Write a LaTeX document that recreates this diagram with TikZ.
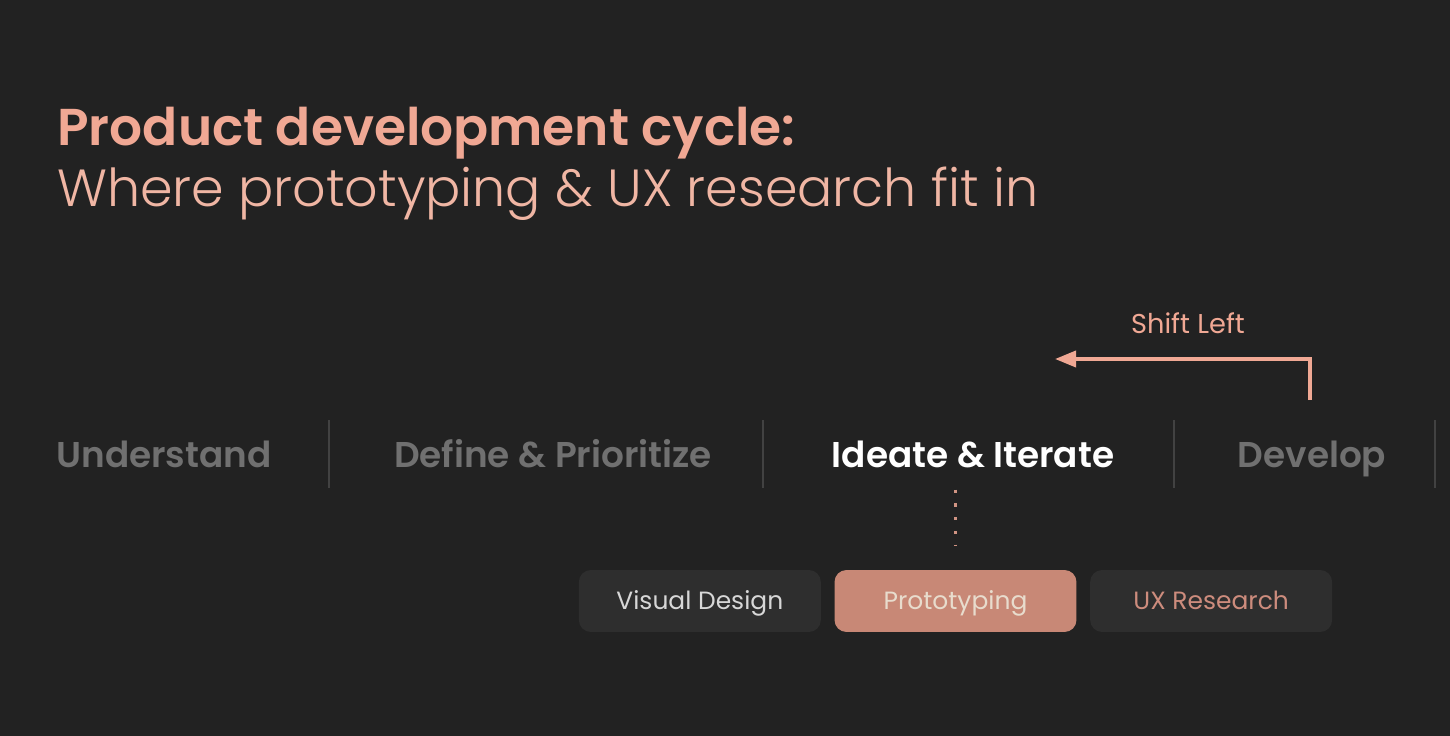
\documentclass[tikz,border=0pt]{standalone}
\usepackage{fontspec}
\setmainfont{Poppins}
\IfFontExistsTF{Poppins SemiBold}{\newfontfamily\semibold{Poppins SemiBold}}{\newcommand\semibold{\bfseries}}
\IfFontExistsTF{Poppins Light}{\newfontfamily\lightweight{Poppins Light}}{\newcommand\lightweight{}}
\usetikzlibrary{arrows.meta,positioning}
\definecolor{bgdark}{RGB}{34,34,34}
\definecolor{salmon}{RGB}{240,168,148}
\definecolor{salmonsub}{RGB}{240,182,164}
\definecolor{stagegrey}{RGB}{112,112,112}
\definecolor{sepgrey}{RGB}{66,66,66}
\definecolor{boxdark}{RGB}{46,46,46}
\definecolor{protofill}{RGB}{200,136,118}
\definecolor{prototext}{RGB}{232,220,205}
\definecolor{uxtext}{RGB}{205,140,125}
\definecolor{vdtext}{RGB}{215,215,215}
\tikzset{
  ttl/.style={anchor=base west, inner sep=0pt, font=\fontsize{29.5}{34}\selectfont},
  stage/.style={anchor=base, inner sep=0pt, font=\fontsize{20.4}{24}\selectfont\semibold, text=stagegrey},
  sep/.style={draw=sepgrey, line width=1pt},
  tool/.style={rectangle, rounded corners=0.24cm, fill=boxdark, minimum width=4.84cm, minimum height=1.24cm, inner sep=0pt,
    text height=0.94em, text depth=0pt, font=\fontsize{14.2}{17}\selectfont},
  shiftarrow/.style={draw=salmon, line width=2.1pt, -{Triangle[length=0.42cm, width=0.32cm]}},
}

\begin{document}
\begin{tikzpicture}[x=0.02cm, y=-0.02cm]
  % Background
  \fill[bgdark] (0,0) rectangle (1450,736);
  \useasboundingbox (0,0) rectangle (1450,736);

  % Title
  \node[ttl, text=salmon, font=\fontsize{29.5}{34}\selectfont\semibold] (title) at (57,146) {Product development cycle:};
  \node[ttl, text=salmonsub, font=\fontsize{29.75}{34}\selectfont\lightweight] (subtitle) at (57,207) {Where prototyping \& UX research fit in};

  % Stages
  \node[stage] (understand) at (164,467) {Understand};
  \node[stage] (define) at (553,467) {Define \& Prioritize};
  \node[stage, text=white] (ideate) at (973,467) {Ideate \& Iterate};
  \node[stage] (develop) at (1312,467) {Develop};

  % Separators
  \foreach \x in {329,763,1174,1435}
    \draw[sep] (\x,420) -- (\x,488);

  % Shift left
  \node[anchor=base, inner sep=0pt, text=salmon, font=\fontsize{15.5}{18}\selectfont] (shift) at (1188,334) {Shift Left};
  \coordinate (shiftstart) at (1310,400);
  \coordinate (shiftend) at (1055,359);
  \draw[shiftarrow] (shiftstart) |- (shiftend);

  % Tools
  \node[tool, fill=protofill, text=prototext] (proto) at (955.5,601) {Prototyping};
  \node[tool, text=vdtext, left=0.26cm of proto] (visual) {Visual Design};
  \node[tool, text=uxtext, right=0.26cm of proto] (uxres) {UX Research};

  % Dotted link
  \draw[salmon!85!bgdark, line width=1.8pt, dash pattern=on 1.8pt off 6pt,
    shorten <=12.5pt, shorten >=13.7pt] (proto.north |- ideate.south) -- (proto.north);
\end{tikzpicture}
\end{document}
